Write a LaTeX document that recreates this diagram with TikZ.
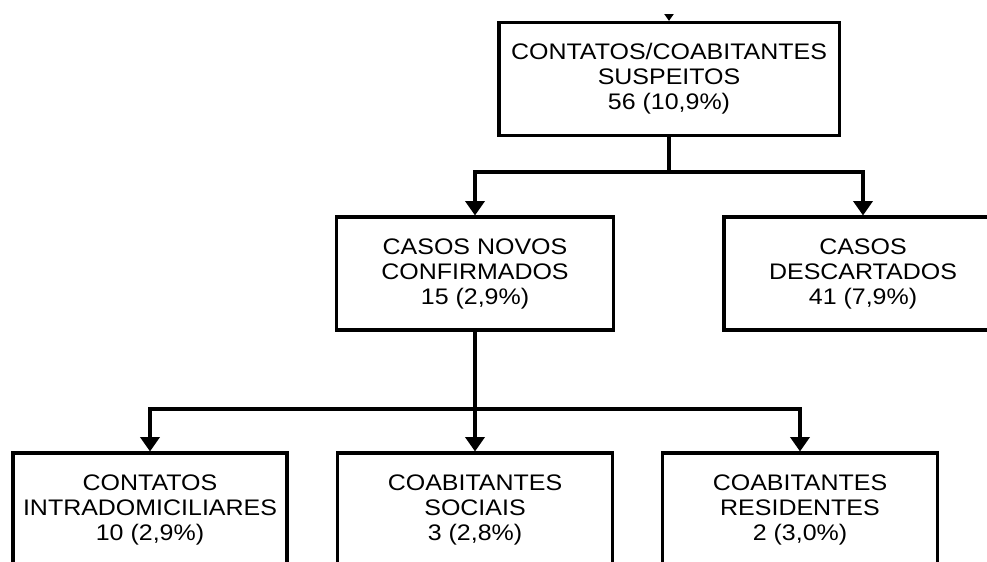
\documentclass[tikz,border=0pt]{standalone}
\usepackage{fontspec}
\setmainfont{Liberation Sans}[FakeStretch=1.11]
\usetikzlibrary{arrows.meta}
\begin{document}
\begin{tikzpicture}
            [x=0.025cm,y=-0.025cm,
            Node/.style={rectangle,draw=black,line width=2.2pt,align=center,
              minimum height=2.825cm,inner sep=0pt,
              font=\fontsize{16}{17.8}\selectfont},
            Line/.style={line width=2.2pt},
            Arr/.style={line width=2.2pt,-{Triangle[width=0.48cm,length=0.36cm]}}]
            \useasboundingbox (0,0) rectangle (987,561);
            \clip (0,14) rectangle (987,561);
            \node[Node,minimum width=8.5cm] (sus) at (669,79){CONTATOS/COABITANTES\\SUSPEITOS\\56 (10,9\%)};
            \node[Node,minimum width=6.925cm] (conf) at (475,273.5){CASOS NOVOS\\CONFIRMADOS\\15 (2,9\%)};
            \node[Node,minimum width=6.95cm] (desc) at (863,273.5){CASOS\\DESCARTADOS\\41 (7,9\%)};
            \node[Node,minimum width=6.85cm] (intra) at (150,509.5){CONTATOS\\INTRADOMICILIARES\\10 (2,9\%)};
            \node[Node,minimum width=6.875cm] (soc) at (475,509.5){COABITANTES\\SOCIAIS\\3 (2,8\%)};
            \node[Node,minimum width=6.875cm] (res) at (800,509.5){COABITANTES\\RESIDENTES\\2 (3,0\%)};
            \coordinate (in) at (669,-20);
            \coordinate (j1) at (669,172);
            \coordinate (j2) at (475,409);
            \draw [Arr](in) to (sus.north);
            \draw [Line](sus.south) to (j1);
            \draw [Arr](j1) -| (conf.north);
            \draw [Arr](j1) -| (desc.north);
            \draw [Line](conf.south) to (j2);
            \draw [Arr](j2) -| (intra.north);
            \draw [Arr](j2) to (soc.north);
            \draw [Arr](j2) -| (res.north);
        \end{tikzpicture}
\end{document}
